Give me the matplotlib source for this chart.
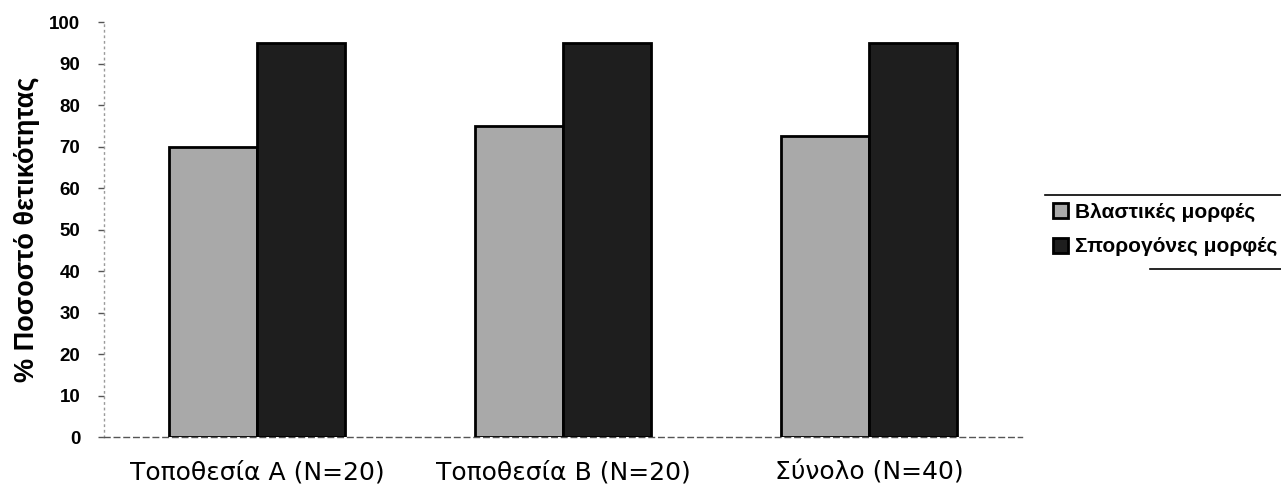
import matplotlib
matplotlib.use("Agg")
import matplotlib.pyplot as plt
from matplotlib.lines import Line2D
import numpy as np

categories = ["Τοποθεσία A (N=20)", "Τοποθεσία B (N=20)", "Σύνολο (N=40)"]
series_names = ["Βλαστικές μορφές", "Σπορογόνες μορφές"]
vegetative = [70, 75, 72.5]
sporogenous = [95, 95, 95]
yticks = [0, 10, 20, 30, 40, 50, 60, 70, 80, 90, 100]

plt.rcParams["font.family"] = ["Liberation Sans", "DejaVu Sans"]

fig = plt.figure(figsize=(12.81, 4.97), dpi=100)
ax = fig.add_axes([0.0812, 0.1207, 0.7166, 0.835])

x = np.arange(len(categories))
w = 0.288
ax.bar(x - w / 2, vegetative, width=w, color="#a9a9a9", edgecolor="black",
       linewidth=2.0, label=series_names[0], zorder=3)
ax.bar(x + w / 2, sporogenous, width=w, color="#1e1e1e", edgecolor="black",
       linewidth=2.0, label=series_names[1], zorder=3)

ax.set_xlim(-0.5, 2.5)
ax.set_ylim(0, 100)
ax.set_yticks(yticks)
ax.set_yticklabels([str(t) for t in yticks], fontsize=13.5, fontweight="bold")
ax.set_xticks(x)
ax.set_xticklabels(categories, fontsize=18, family=["DejaVu Sans"])
ax.tick_params(axis="x", length=0, pad=17)
ax.tick_params(axis="y", length=4, width=1, color="#555555", pad=13)

ax.set_ylabel("% Ποσοστό θετικότητας", fontsize=19.5, fontweight="bold", labelpad=7)

for side in ["top", "right"]:
    ax.spines[side].set_visible(False)
ax.spines["left"].set_color("#9a9a9a")
ax.spines["left"].set_linestyle((0, (1, 3)))
ax.spines["left"].set_linewidth(1)
ax.spines["bottom"].set_color("#555555")
ax.spines["bottom"].set_linestyle((0, (4, 3)))
ax.spines["bottom"].set_linewidth(1)

leg = fig.legend(loc="upper left", bbox_to_anchor=(1053 / 1281, 0.592), frameon=False,
                 fontsize=15, handlelength=0.72, handleheight=0.72,
                 handletextpad=0.34, labelspacing=0.75, borderaxespad=0,
                 borderpad=0)
for t in leg.get_texts():
    t.set_fontweight("bold")

fig.add_artist(Line2D([0.8158, 1.0], [0.6076, 0.6076], color="black", lw=1.2,
                      transform=fig.transFigure))
fig.add_artist(Line2D([0.8977, 1.0], [0.4588, 0.4588], color="black", lw=1.2,
                      transform=fig.transFigure))

fig.savefig("out.png", dpi=100)
